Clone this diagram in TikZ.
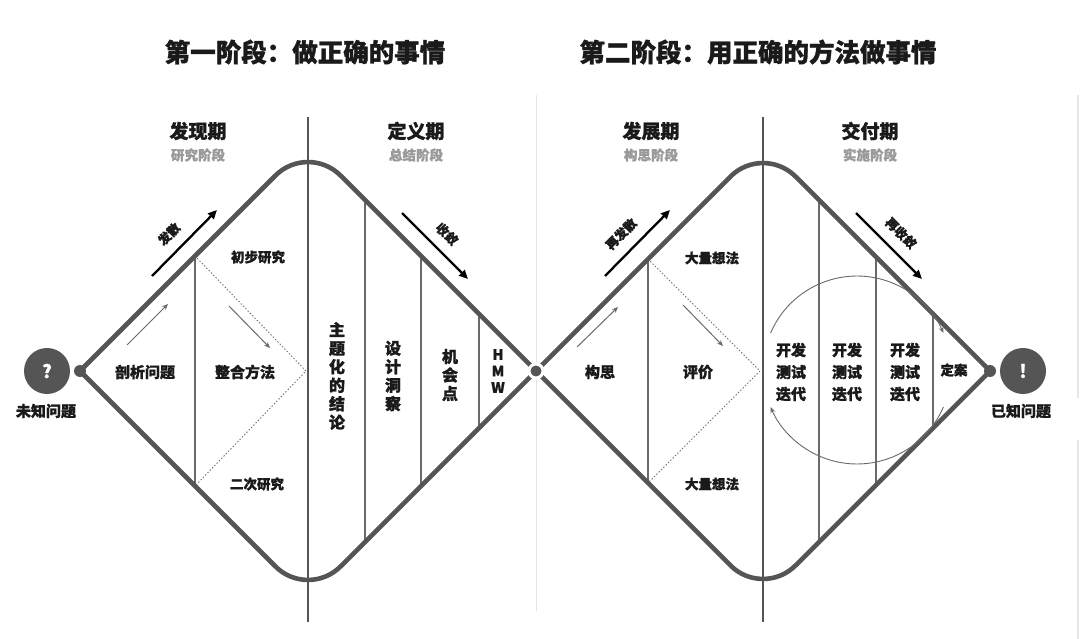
\documentclass[tikz,border=0pt]{standalone}
\usepackage{fontspec}
\setmainfont{Noto Sans CJK SC}[BoldFeatures={FakeBold=1.2}]
\usetikzlibrary{arrows.meta}
\definecolor{dg}{HTML}{555555}
\definecolor{mg}{HTML}{6A6A6A}
\definecolor{sub}{HTML}{9A9A9A}
\definecolor{txt}{HTML}{1A1A1A}
\definecolor{faint}{HTML}{E6E6E6}
\begin{document}
\begin{tikzpicture}[x=1pt,y=-1pt,
  outline/.style={draw=dg,line width=4.6pt,line cap=round,rounded corners=46pt},
  mainsep/.style={draw=dg,line width=2.6pt},
  divider/.style={draw=mg,line width=1.3pt},
  dotline/.style={draw=mg,line width=0.9pt,dash pattern=on 1.3pt off 2pt},
  bigarrow/.style={draw=black,line width=2.3pt,-{Triangle[length=9pt,width=8pt]}},
  smallarrow/.style={draw=mg,line width=1pt,-{Stealth[length=6pt,width=5pt]}},
  looparrow/.style={draw=mg,line width=0.9pt,-{Stealth[length=6pt,width=5pt]}},
  title/.style={font=\fontsize{25.5}{28}\selectfont\bfseries,text=txt},
  phase/.style={font=\fontsize{19}{22}\selectfont\bfseries,text=txt},
  subphase/.style={font=\fontsize{13.5}{16}\selectfont\bfseries,text=sub},
  lbl/.style={font=\fontsize{15}{18}\selectfont\bfseries,text=txt},
  slbl/.style={font=\fontsize{13.5}{16}\selectfont\bfseries,text=txt},
  vlbl/.style={font=\fontsize{16}{18.5}\selectfont\bfseries,text=txt,align=center},
  mlbl/.style={font=\fontsize{15}{22}\selectfont\bfseries,text=txt,align=center},
  albl/.style={font=\fontsize{12.5}{14}\selectfont\bfseries,text=txt},
  bigdot/.style={circle,fill=dg,inner sep=0pt,minimum size=46pt,text=white,font=\fontsize{18}{20}\selectfont\bfseries},
  vdot/.style={circle,fill=dg,inner sep=0pt,minimum size=12pt}
]
\useasboundingbox[fill=white] (0,0) rectangle (1080,639);

% faint artefact lines
\draw[faint,line width=1pt] (536,95) -- (536,611);
\draw[faint,line width=1.5pt] (1078,95) -- (1078,398) (1078,440) -- (1078,639);

% titles
\node[title] (t1) at (305,52) {第一阶段：做正确的事情};
\node[title] (t2) at (758,52) {第二阶段：用正确的方法做事情};

% phase headers
\node[phase] (p1) at (198,131) {发现期};
\node[subphase] (s1) at (198,155) {研究阶段};
\node[phase] (p2) at (416,131) {定义期};
\node[subphase] (s2) at (416,155) {总结阶段};
\node[phase] (p3) at (651,131) {发展期};
\node[subphase] (s3) at (651,155) {构思阶段};
\node[phase] (p4) at (870,131) {交付期};
\node[subphase] (s4) at (870,155) {实施阶段};

% main separators
\draw[mainsep] (308,117) -- (308,622);
\draw[mainsep] (763,117) -- (763,622);

% inner dividers, left diamond
\draw[divider] (195,256) -- (195,486);
\draw[divider] (365,200) -- (365,542);
\draw[divider] (421,256) -- (421,486);
\draw[divider] (479,314) -- (479,428);
\draw[dotline] (195,256) -- (306,371) -- (195,486);
% inner dividers, right diamond
\draw[divider] (648,259) -- (648,483);
\draw[divider] (819,199) -- (819,543);
\draw[divider] (876,256) -- (876,486);
\draw[divider] (933,313) -- (933,429);
\draw[dotline] (648,259) -- (760,371) -- (648,483);

% diamonds
\coordinate (L) at (80,371);
\coordinate (LT) at (308,143);
\coordinate (LB) at (308,599);
\coordinate (C) at (536,371);
\coordinate (RT) at (763,144);
\coordinate (RB) at (763,598);
\coordinate (R) at (990,371);
\draw[outline] (L) -- (LT) -- (C);
\draw[outline] (L) -- (LB) -- (C);
\draw[outline] (C) -- (RT) -- (R);
\draw[outline] (C) -- (RB) -- (R);

\node[vdot] (dl) at (L) {};
\node[vdot] (dr) at (R) {};
\node[vdot,draw=white,line width=3pt,minimum size=14pt] (dc) at (C) {};

% start / end
\node[bigdot] (q) at (47,371) {?};
\node[lbl] (ql) at (46,411) {未知问题};
\node[bigdot] (e) at (1023,371) {!};
\node[lbl] (el) at (1021,411) {已知问题};

% left diamond labels
\node[lbl] (a1) at (145,372) {剖析问题};
\node[lbl] (a2) at (245,372) {整合方法};
\node[slbl] (a3) at (258,257) {初步研究};
\node[slbl] (a4) at (257,484) {二次研究};
\node[vlbl] (a5) at (337,376) {主\\题\\化\\的\\结\\论};
\node[vlbl] (a6) at (393,376) {设\\计\\洞\\察};
\node[vlbl] (a7) at (450,375) {机\\会\\点};
\node[vlbl,font=\fontsize{14.5}{16.5}\selectfont\bfseries] (a8) at (498,371) {H\\M\\W};

% right diamond labels
\node[lbl] (b1) at (600,372) {构思};
\node[lbl] (b2) at (698,372) {评价};
\node[slbl] (b3) at (712,258) {大量想法};
\node[slbl] (b4) at (712,484) {大量想法};
\node[mlbl] (b5) at (791,372) {开发\\测试\\迭代};
\node[mlbl] (b6) at (847,372) {开发\\测试\\迭代};
\node[mlbl] (b7) at (905,372) {开发\\测试\\迭代};
\node[slbl] (b8) at (954,370) {定案};

% big arrows
\coordinate (fa1) at (152,276); \coordinate (fa2) at (217,210);
\coordinate (sa1) at (402,213); \coordinate (sa2) at (468,279);
\coordinate (ra1) at (605,276); \coordinate (ra2) at (670,210);
\coordinate (ta1) at (856,213); \coordinate (ta2) at (922,279);
\draw[bigarrow] (fa1) -- (fa2);
\draw[bigarrow] (sa1) -- (sa2);
\draw[bigarrow] (ra1) -- (ra2);
\draw[bigarrow] (ta1) -- (ta2);
\node[albl,rotate=45] (fl) at (169,234) {发散};
\node[albl,rotate=-45] (sl) at (447,234) {收敛};
\node[albl,rotate=45] (rl) at (621,234) {再发散};
\node[albl,rotate=-45] (tl) at (901,233) {再收敛};

% small arrows
\coordinate (g1) at (127,345); \coordinate (g2) at (168,304);
\coordinate (g3) at (229,306); \coordinate (g4) at (270,348);
\coordinate (g5) at (577,347); \coordinate (g6) at (618,307);
\coordinate (g7) at (683,305); \coordinate (g8) at (723,346);
\draw[smallarrow] (g1) -- (g2);
\draw[smallarrow] (g3) -- (g4);
\draw[smallarrow] (g5) -- (g6);
\draw[smallarrow] (g7) -- (g8);

% iteration loop
\coordinate (lp1) at (770.6,333);
\coordinate (lp2) at (943.4,407);
\draw[looparrow] (lp1) arc[start angle=156.8,end angle=23.2,radius=94pt];
\draw[looparrow] (lp2) arc[start angle=-23.2,end angle=-156.8,radius=94pt];
\end{tikzpicture}
\end{document}
